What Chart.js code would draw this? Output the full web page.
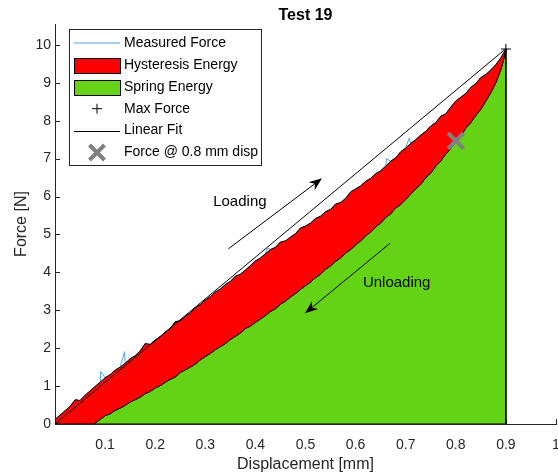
<!DOCTYPE html>
<html>
<head>
<meta charset="utf-8">
<script src="https://cdn.jsdelivr.net/npm/chart.js@4.4.0/dist/chart.umd.min.js"></script>
<style>
  html, body { margin: 0; padding: 0; background: #fff; }
</style>
</head>
<body>
<canvas id="forceChart" width="558" height="476"></canvas>
<script>
// loading branch (measured force while displacement increases)
const loadX = [
  0.00, 0.01, 0.02, 0.03, 0.04, 0.05, 0.06, 0.07, 0.08, 0.09,
  0.10, 0.11, 0.12, 0.13, 0.14, 0.15, 0.16, 0.17, 0.18, 0.19,
  0.20, 0.21, 0.22, 0.23, 0.24, 0.25, 0.26, 0.27, 0.28, 0.29,
  0.30, 0.31, 0.32, 0.33, 0.34, 0.35, 0.36, 0.37, 0.38, 0.39,
  0.40, 0.41, 0.42, 0.43, 0.44, 0.45, 0.46, 0.47, 0.48, 0.49,
  0.50, 0.51, 0.52, 0.53, 0.54, 0.55, 0.56, 0.57, 0.58, 0.59,
  0.60, 0.61, 0.62, 0.63, 0.64, 0.65, 0.66, 0.67, 0.68, 0.69,
  0.70, 0.71, 0.72, 0.73, 0.74, 0.75, 0.76, 0.77, 0.78, 0.79,
  0.80, 0.81, 0.82, 0.83, 0.84, 0.85, 0.86, 0.87, 0.88, 0.89,
  0.90
];
const loadF = [
  0.12, 0.23, 0.35, 0.46, 0.64, 0.62, 0.76, 0.87, 0.99, 1.10,
  1.22, 1.30, 1.42, 1.50, 1.60, 1.72, 1.80, 1.93, 2.12, 2.10,
  2.22, 2.30, 2.42, 2.52, 2.70, 2.72, 2.84, 2.93, 3.06, 3.15,
  3.27, 3.36, 3.48, 3.56, 3.68, 3.76, 3.90, 3.95, 4.06, 4.18,
  4.30, 4.38, 4.49, 4.60, 4.66, 4.80, 4.83, 4.93, 5.02, 5.17,
  5.22, 5.30, 5.42, 5.48, 5.60, 5.66, 5.80, 5.84, 5.95, 6.12,
  6.20, 6.28, 6.40, 6.48, 6.60, 6.68, 6.80, 6.93, 7.02, 7.18,
  7.28, 7.40, 7.50, 7.62, 7.72, 7.86, 7.95, 8.12, 8.18, 8.36,
  8.52, 8.62, 8.72, 8.88, 8.98, 9.14, 9.22, 9.34, 9.48, 9.66,
  9.89
];

// unloading branch
const unloadX = [
  0.078, 0.08, 0.09,
  0.10, 0.11, 0.12, 0.13, 0.14, 0.15, 0.16, 0.17, 0.18, 0.19,
  0.20, 0.21, 0.22, 0.23, 0.24, 0.25, 0.26, 0.27, 0.28, 0.29,
  0.30, 0.31, 0.32, 0.33, 0.34, 0.35, 0.36, 0.37, 0.38, 0.39,
  0.40, 0.41, 0.42, 0.43, 0.44, 0.45, 0.46, 0.47, 0.48, 0.49,
  0.50, 0.51, 0.52, 0.53, 0.54, 0.55, 0.56, 0.57, 0.58, 0.59,
  0.60, 0.61, 0.62, 0.63, 0.64, 0.65, 0.66, 0.67, 0.68, 0.69,
  0.70, 0.71, 0.72, 0.73, 0.74, 0.75, 0.76, 0.77, 0.78, 0.79,
  0.80, 0.81, 0.82, 0.83, 0.84, 0.85, 0.86, 0.87, 0.88, 0.89,
  0.895, 0.90
];
const unloadF = [
  0.00, 0.02, 0.12,
  0.22, 0.27, 0.36, 0.42, 0.49, 0.58, 0.64, 0.71, 0.80, 0.86,
  0.95, 1.01, 1.10, 1.18, 1.24, 1.36, 1.43, 1.50, 1.58, 1.69,
  1.78, 1.86, 1.96, 2.04, 2.12, 2.23, 2.31, 2.40, 2.52, 2.58,
  2.68, 2.77, 2.86, 2.97, 3.04, 3.16, 3.24, 3.35, 3.44, 3.55,
  3.65, 3.74, 3.86, 3.95, 4.08, 4.17, 4.29, 4.38, 4.51, 4.60,
  4.72, 4.83, 4.96, 5.06, 5.20, 5.30, 5.45, 5.54, 5.70, 5.79,
  5.92, 6.06, 6.20, 6.32, 6.50, 6.62, 6.80, 6.94, 7.12, 7.27,
  7.45, 7.60, 7.80, 7.95, 8.14, 8.30, 8.52, 8.74, 9.00, 9.35,
  9.58, 9.89
];

// short force spikes in the raw signal that poke out of the filled area
const spikeX = [0.091, 0.139, 0.424, 0.662, 0.707];
const spikeF = [1.38, 1.91, 4.64, 7.00, 7.54];

const fitX = [0, 0.9];
const fitF = [0, 9.9];
const maxX = [0.9];
const maxF = [9.89];
const dispX = [0.8];
const dispF = [7.47];

const xTicks = [0, 0.1, 0.2, 0.3, 0.4, 0.5, 0.6, 0.7, 0.8, 0.9, 1];
const xTickLabels = ['', '0.1', '0.2', '0.3', '0.4', '0.5', '0.6', '0.7', '0.8', '0.9', '1'];
const yTicks = [0, 1, 2, 3, 4, 5, 6, 7, 8, 9, 10];
const yTickLabels = ['0', '1', '2', '3', '4', '5', '6', '7', '8', '9', '10'];

const FONT = "'Liberation Sans', Arial, Helvetica, sans-serif";
const AXIS = '#262626';
const BLUE = '#4DA3E0';
const RED = '#FF0000';
const GREEN = '#64D315';
const GREY = '#808080';

const pts = (xs, ys) => xs.map((x, i) => ({ x: x, y: ys[i] }));

const measured = pts(loadX.concat(spikeX), loadF.concat(spikeF)).sort((a, b) => a.x - b.x);

// closed outline: up the loading branch, back down the unloading branch
const hysteresis = pts(loadX, loadF)
  .concat(pts(unloadX, unloadF).reverse())
  .concat([{ x: 0, y: 0 }, { x: loadX[0], y: loadF[0] }]);

const lastX = unloadX[unloadX.length - 1];
const spring = pts(unloadX, unloadF)
  .concat([{ x: lastX, y: 0 }, { x: unloadX[0], y: 0 }]);

function drawArrow(ctx, x1, y1, x2, y2) {
  const a = Math.atan2(y2 - y1, x2 - x1);
  ctx.beginPath();
  ctx.moveTo(x1, y1);
  ctx.lineTo(x2 - Math.cos(a) * 8, y2 - Math.sin(a) * 8);
  ctx.stroke();
  ctx.save();
  ctx.translate(x2, y2);
  ctx.rotate(a);
  ctx.beginPath();
  ctx.moveTo(0, 0);
  ctx.lineTo(-13, -5);
  ctx.lineTo(-9, 0);
  ctx.lineTo(-13, 5);
  ctx.closePath();
  ctx.fill();
  ctx.restore();
}

function drawPlus(ctx, x, y, r) {
  ctx.beginPath();
  ctx.moveTo(x - r, y); ctx.lineTo(x + r, y);
  ctx.moveTo(x, y - r); ctx.lineTo(x, y + r);
  ctx.stroke();
}

function drawX(ctx, x, y, r) {
  ctx.beginPath();
  ctx.moveTo(x - r, y - r); ctx.lineTo(x + r, y + r);
  ctx.moveTo(x - r, y + r); ctx.lineTo(x + r, y - r);
  ctx.stroke();
}

const arrows = [
  { from: [0.346, 4.62], to: [0.533, 6.48] },
  { from: [0.669, 4.77], to: [0.499, 2.92] }
];
const notes = [
  { text: 'Loading', at: [0.369, 5.87] },
  { text: 'Unloading', at: [0.682, 3.71] }
];

const overlay = {
  id: 'overlay',
  beforeDatasetsDraw(chart) {
    // MATLAB style inward ticks, underneath the data
    const { ctx, chartArea: a, scales: { x, y } } = chart;
    ctx.save();
    ctx.strokeStyle = AXIS;
    ctx.lineWidth = 1;
    ctx.beginPath();
    yTicks.forEach(v => {
      const py = Math.round(y.getPixelForValue(v)) + 0.5;
      ctx.moveTo(a.left, py); ctx.lineTo(a.left + 5, py);
    });
    xTicks.forEach(v => {
      const px = Math.round(x.getPixelForValue(v)) + 0.5;
      ctx.moveTo(px, a.bottom); ctx.lineTo(px, a.bottom - 5);
    });
    ctx.stroke();
    ctx.restore();
  },
  afterDraw(chart) {
    const { ctx, chartArea: a, scales: { x, y } } = chart;
    ctx.save();

    // arrows and their captions
    ctx.strokeStyle = '#000';
    ctx.fillStyle = '#000';
    ctx.lineWidth = 1;
    arrows.forEach(ar => {
      drawArrow(ctx, x.getPixelForValue(ar.from[0]), y.getPixelForValue(ar.from[1]),
        x.getPixelForValue(ar.to[0]), y.getPixelForValue(ar.to[1]));
    });
    ctx.font = '15px ' + FONT;
    ctx.textAlign = 'center';
    ctx.textBaseline = 'middle';
    notes.forEach(n => ctx.fillText(n.text, x.getPixelForValue(n.at[0]), y.getPixelForValue(n.at[1])));

    // legend
    const L = 69.5, T = 29.5, W = 192, H = 136;
    ctx.fillStyle = '#fff';
    ctx.fillRect(L, T, W, H);
    ctx.strokeStyle = AXIS;
    ctx.strokeRect(L, T, W, H);
    const row = i => 43 + i * 21.9;
    const sx1 = 74, sx2 = 120, sxm = 97;

    ctx.strokeStyle = BLUE;
    ctx.beginPath(); ctx.moveTo(sx1, row(0)); ctx.lineTo(sx2, row(0)); ctx.stroke();

    [[RED, 1], [GREEN, 2]].forEach(([c, i]) => {
      ctx.fillStyle = c;
      ctx.fillRect(sx1 + 0.5, Math.round(row(i) - 7) + 0.5, sx2 - sx1, 15);
      ctx.strokeStyle = '#000';
      ctx.strokeRect(sx1 + 0.5, Math.round(row(i) - 7) + 0.5, sx2 - sx1, 15);
    });

    ctx.strokeStyle = '#000';
    drawPlus(ctx, sxm, row(3), 5);
    ctx.beginPath(); ctx.moveTo(sx1, Math.round(row(4)) + 0.5); ctx.lineTo(sx2, Math.round(row(4)) + 0.5); ctx.stroke();
    ctx.strokeStyle = GREY;
    ctx.lineWidth = 4;
    drawX(ctx, sxm, row(5), 7.5);
    ctx.lineWidth = 1;

    ctx.fillStyle = '#000';
    ctx.font = '14px ' + FONT;
    ctx.textAlign = 'left';
    ctx.textBaseline = 'middle';
    ['Measured Force', 'Hysteresis Energy', 'Spring Energy', 'Max Force', 'Linear Fit', 'Force @ 0.8 mm disp']
      .forEach((t, i) => ctx.fillText(t, 124, row(i)));

    // title and axis titles
    ctx.textAlign = 'center';
    ctx.textBaseline = 'alphabetic';
    ctx.font = 'bold 16px ' + FONT;
    ctx.fillText('Test 19', (a.left + a.right) / 2, 20);
    ctx.fillStyle = AXIS;
    ctx.font = '16px ' + FONT;
    ctx.fillText('Displacement [mm]', (a.left + a.right) / 2, 469);
    ctx.translate(26, (a.top + a.bottom) / 2);
    ctx.rotate(-Math.PI / 2);
    ctx.fillText('Force [N]', 0, 0);
    ctx.restore();
  }
};

const ctx = document.getElementById('forceChart').getContext('2d');
new Chart(ctx, {
  type: 'scatter',
  data: {
    datasets: [
      { label: 'Measured Force', data: measured, showLine: true, borderColor: BLUE, borderWidth: 1, pointRadius: 0, order: 6 },
      { label: 'Spring Energy', data: spring, showLine: true, fill: 'shape', backgroundColor: GREEN, borderColor: '#000', borderWidth: 1, pointRadius: 0, order: 5 },
      { label: 'Hysteresis Energy', data: hysteresis, showLine: true, fill: 'shape', backgroundColor: RED, borderColor: '#000', borderWidth: 1, pointRadius: 0, order: 4 },
      { label: 'Linear Fit', data: pts(fitX, fitF), showLine: true, borderColor: '#000', borderWidth: 1, pointRadius: 0, order: 3 },
      { label: 'Max Force', data: pts(maxX, maxF), pointStyle: 'cross', pointRadius: 5, borderColor: '#000', borderWidth: 1, order: 2 },
      { label: 'Force @ 0.8 mm disp', data: pts(dispX, dispF), pointStyle: 'crossRot', pointRadius: 11, borderColor: GREY, borderWidth: 4, order: 1 }
    ]
  },
  options: {
    responsive: false,
    animation: false,
    events: [],
    // autoPadding would reserve room for the big X marker and shrink the plot
    layout: { autoPadding: false, padding: { top: 24, right: 2, left: 0, bottom: 0 } },
    plugins: { legend: { display: false }, tooltip: { enabled: false }, title: { display: false } },
    scales: {
      x: {
        type: 'linear', min: 0, max: 1,
        afterBuildTicks: s => { s.ticks = xTicks.map(v => ({ value: v })); },
        afterFit: s => { s.height = 52; s.paddingLeft = 0; s.paddingRight = 0; },
        ticks: {
          autoSkip: false, maxRotation: 0, padding: 13, color: AXIS,
          font: { family: FONT, size: 14 },
          callback: (v, i) => xTickLabels[i]
        },
        grid: { drawOnChartArea: false, drawTicks: false },
        border: { color: AXIS, width: 1 }
      },
      y: {
        type: 'linear', min: 0, max: 10.55,
        afterBuildTicks: s => { s.ticks = yTicks.map(v => ({ value: v })); },
        afterFit: s => { s.width = 55; s.paddingTop = 0; s.paddingBottom = 0; },
        ticks: {
          padding: 4, color: AXIS,
          font: { family: FONT, size: 14 },
          callback: (v, i) => yTickLabels[i]
        },
        grid: { drawOnChartArea: false, drawTicks: false },
        border: { color: AXIS, width: 1 }
      }
    }
  },
  plugins: [overlay]
});
</script>
</body>
</html>
